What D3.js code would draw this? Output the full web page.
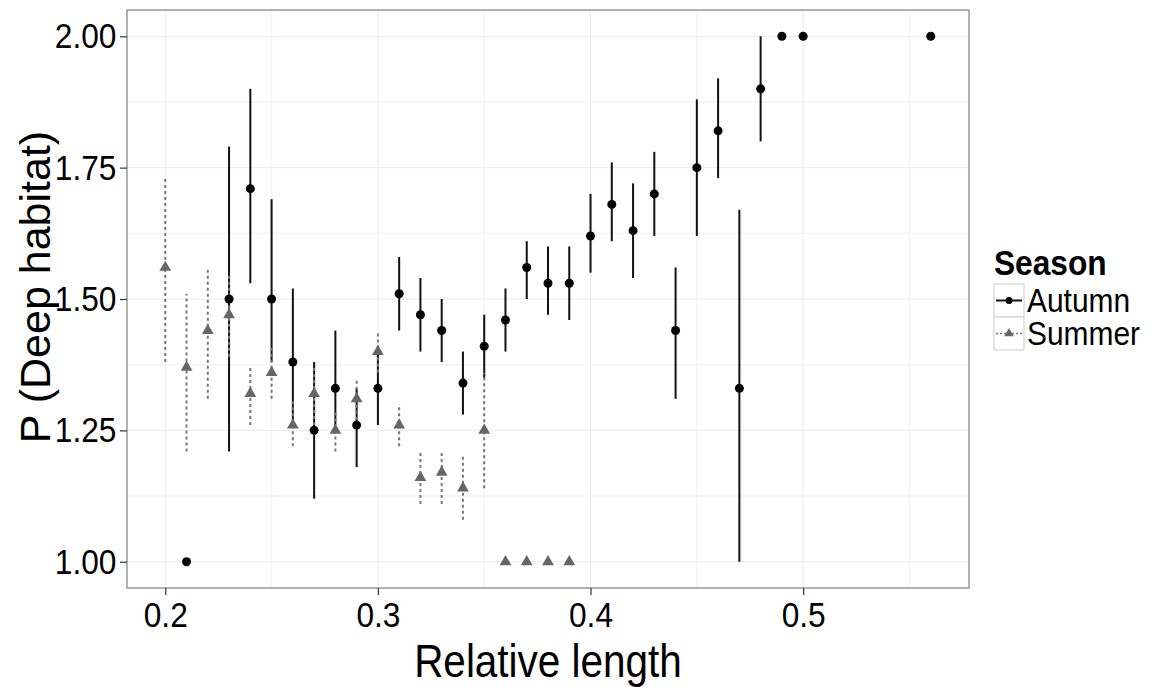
<!DOCTYPE html>
<html>
<head>
<meta charset="utf-8">
<script src="https://cdn.jsdelivr.net/npm/d3@7"></script>
<style>
  body { margin: 0; background: #fff; }
  text { font-family: "Liberation Sans", Arial, sans-serif; fill: #000; }
</style>
</head>
<body>
<svg class="chart" width="1163" height="687"></svg>
<script>
// Autumn
const autumnLength = [0.21, 0.23, 0.24, 0.25, 0.26, 0.27, 0.28, 0.29, 0.30, 0.31, 0.32, 0.33, 0.34, 0.35, 0.36,
  0.37, 0.38, 0.39, 0.40, 0.41, 0.42, 0.43, 0.44, 0.45, 0.46, 0.47, 0.48, 0.49, 0.50, 0.56];
const autumnMean = [1.00, 1.50, 1.71, 1.50, 1.38, 1.25, 1.33, 1.26, 1.33, 1.51, 1.47, 1.44, 1.34, 1.41, 1.46,
  1.56, 1.53, 1.53, 1.62, 1.68, 1.63, 1.70, 1.44, 1.75, 1.82, 1.33, 1.90, 2.00, 2.00, 2.00];
const autumnLow = [1.00, 1.21, 1.53, 1.38, 1.27, 1.12, 1.26, 1.18, 1.26, 1.44, 1.40, 1.38, 1.28, 1.35, 1.40,
  1.50, 1.47, 1.46, 1.55, 1.61, 1.54, 1.62, 1.31, 1.62, 1.73, 1.00, 1.80, 2.00, 2.00, 2.00];
const autumnHigh = [1.00, 1.79, 1.90, 1.69, 1.52, 1.38, 1.44, 1.33, 1.40, 1.58, 1.54, 1.50, 1.40, 1.47, 1.52,
  1.61, 1.60, 1.60, 1.70, 1.76, 1.72, 1.78, 1.56, 1.88, 1.92, 1.67, 2.00, 2.00, 2.00, 2.00];

// Summer
const summerLength = [0.20, 0.21, 0.22, 0.23, 0.24, 0.25, 0.26, 0.27, 0.28, 0.29, 0.30, 0.31, 0.32, 0.33, 0.34,
  0.35, 0.36, 0.37, 0.38, 0.39];
const summerMean = [1.56, 1.37, 1.44, 1.47, 1.32, 1.36, 1.26, 1.32, 1.25, 1.31, 1.40, 1.26, 1.16, 1.17, 1.14,
  1.25, 1.00, 1.00, 1.00, 1.00];
const summerLow = [1.38, 1.21, 1.31, 1.39, 1.26, 1.31, 1.22, 1.26, 1.21, 1.27, 1.36, 1.22, 1.11, 1.11, 1.08,
  1.14, 1.00, 1.00, 1.00, 1.00];
const summerHigh = [1.73, 1.51, 1.56, 1.55, 1.37, 1.41, 1.31, 1.37, 1.29, 1.35, 1.44, 1.30, 1.21, 1.21, 1.20,
  1.36, 1.00, 1.00, 1.00, 1.00];

const xTicks = [0.2, 0.3, 0.4, 0.5];
const xMinor = [0.15, 0.25, 0.35, 0.45, 0.55];
const yTicks = [1.00, 1.25, 1.50, 1.75, 2.00];
const yMinor = [1.125, 1.375, 1.625, 1.875];
const seasons = ['Autumn', 'Summer'];

const zip = (xs, m, lo, hi) => xs.map((x, i) => ({ x, y: m[i], lo: lo[i], hi: hi[i] }));
const autumn = zip(autumnLength, autumnMean, autumnLow, autumnHigh);
const summer = zip(summerLength, summerMean, summerLow, summerHigh);

const panel = { left: 127, right: 969, top: 10, bottom: 588 };
const squeeze = 'scale(0.88,1)';

const x = d3.scaleLinear().domain([0.182, 0.578]).range([panel.left, panel.right]);
const y = d3.scaleLinear().domain([0.95, 2.05]).range([panel.bottom, panel.top]);

const svg = d3.select('.chart');

// grid
const grid = svg.append('g');
grid.selectAll('.vminor').data(xMinor.filter(v => x(v) > panel.left && x(v) < panel.right)).enter()
  .append('line')
  .attr('x1', d => x(d)).attr('x2', d => x(d))
  .attr('y1', panel.top).attr('y2', panel.bottom)
  .attr('stroke', '#f4f4f4').attr('stroke-width', 1.5);
grid.selectAll('.hminor').data(yMinor).enter()
  .append('line')
  .attr('y1', d => y(d)).attr('y2', d => y(d))
  .attr('x1', panel.left).attr('x2', panel.right)
  .attr('stroke', '#f4f4f4').attr('stroke-width', 1.5);
grid.selectAll('.vmajor').data(xTicks).enter()
  .append('line')
  .attr('x1', d => x(d)).attr('x2', d => x(d))
  .attr('y1', panel.top).attr('y2', panel.bottom)
  .attr('stroke', '#ebebeb').attr('stroke-width', 1);
grid.selectAll('.hmajor').data(yTicks).enter()
  .append('line')
  .attr('y1', d => y(d)).attr('y2', d => y(d))
  .attr('x1', panel.left).attr('x2', panel.right)
  .attr('stroke', '#ebebeb').attr('stroke-width', 1);

// error bars
const bars = svg.append('g');
bars.selectAll('.ea').data(autumn.filter(d => d.hi > d.lo)).enter()
  .append('line')
  .attr('x1', d => x(d.x)).attr('x2', d => x(d.x))
  .attr('y1', d => y(d.lo)).attr('y2', d => y(d.hi))
  .attr('stroke', '#111').attr('stroke-width', 2);
bars.selectAll('.es').data(summer.filter(d => d.hi > d.lo)).enter()
  .append('line')
  .attr('x1', d => x(d.x)).attr('x2', d => x(d.x))
  .attr('y1', d => y(d.lo)).attr('y2', d => y(d.hi))
  .attr('stroke', '#777').attr('stroke-width', 2)
  .attr('stroke-dasharray', '3,3');

// points
const tri = d3.symbol().type(d3.symbolTriangle).size(60);
const pts = svg.append('g');
pts.selectAll('circle').data(autumn).enter()
  .append('circle')
  .attr('cx', d => x(d.x)).attr('cy', d => y(d.y))
  .attr('r', 4.5).attr('fill', '#000');
pts.selectAll('path').data(summer).enter()
  .append('path')
  .attr('d', tri)
  .attr('transform', d => `translate(${x(d.x)},${y(d.y)})`)
  .attr('fill', '#666');

// panel border
svg.append('rect')
  .attr('x', panel.left).attr('y', panel.top)
  .attr('width', panel.right - panel.left).attr('height', panel.bottom - panel.top)
  .attr('fill', 'none').attr('stroke', '#7f7f7f').attr('stroke-width', 1.2);

// axes
const xAxis = svg.append('g')
  .attr('transform', `translate(0,${panel.bottom})`)
  .call(d3.axisBottom(x).tickValues(xTicks).tickFormat(d3.format('.1f')).tickSize(7).tickPadding(6));
const yAxis = svg.append('g')
  .attr('transform', `translate(${panel.left},0)`)
  .call(d3.axisLeft(y).tickValues(yTicks).tickFormat(d3.format('.2f')).tickSize(7).tickPadding(4));
[xAxis, yAxis].forEach(ax => {
  ax.select('.domain').remove();
  ax.selectAll('.tick line').attr('stroke', '#333').attr('stroke-width', 1.2);
  ax.selectAll('.tick text')
    .style('font-family', '"Liberation Sans", Arial, sans-serif')
    .style('font-size', '36px').attr('fill', '#000')
    .attr('transform', squeeze);
});
yAxis.selectAll('.tick text').attr('x', -12);

// titles
svg.append('text')
  .attr('transform', `translate(${(panel.left + panel.right) / 2},677) ${squeeze}`)
  .attr('text-anchor', 'middle')
  .style('font-size', '46px')
  .text('Relative length');
svg.append('text')
  .attr('transform', 'translate(50,287) rotate(-90)')
  .attr('text-anchor', 'middle')
  .style('font-size', '43px')
  .text('P (Deep habitat)');

// legend
const legend = svg.append('g').attr('transform', 'translate(994,250)');
legend.append('text')
  .attr('transform', `translate(0,25) ${squeeze}`)
  .style('font-size', '36px').style('font-weight', 'bold')
  .text('Season');
const keys = legend.selectAll('.key').data(seasons).enter()
  .append('g')
  .attr('transform', (d, i) => `translate(0,${34 + i * 33})`);
keys.append('rect')
  .attr('width', 30).attr('height', 33)
  .attr('fill', '#fff').attr('stroke', '#ccc').attr('stroke-width', 1);
keys.append('line')
  .attr('x1', 2).attr('x2', 28).attr('y1', 16.5).attr('y2', 16.5)
  .attr('stroke', d => d === 'Autumn' ? '#111' : '#777')
  .attr('stroke-width', d => d === 'Autumn' ? 2 : 1.5)
  .attr('stroke-dasharray', d => d === 'Autumn' ? null : '2,2');
keys.filter(d => d === 'Autumn').append('circle')
  .attr('cx', 15).attr('cy', 16.5).attr('r', 3.5).attr('fill', '#000');
keys.filter(d => d === 'Summer').append('path')
  .attr('d', d3.symbol().type(d3.symbolTriangle).size(40))
  .attr('transform', 'translate(15,16.5)')
  .attr('fill', '#666');
keys.append('text')
  .attr('transform', `translate(33,28) ${squeeze}`)
  .style('font-size', '34px')
  .text(d => d);
</script>
</body>
</html>
